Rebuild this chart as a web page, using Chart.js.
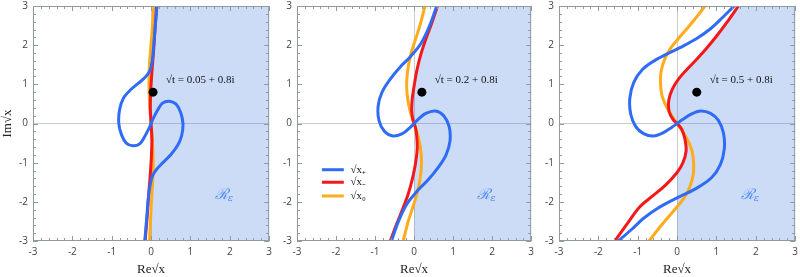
<!DOCTYPE html>
<html>
<head>
<meta charset="utf-8">
<script src="https://cdn.jsdelivr.net/npm/chart.js@4/dist/chart.umd.min.js"></script>
<style>
  body { margin: 0; background: #fff; width: 800px; height: 277px; position: relative; overflow: hidden; }
  canvas { position: absolute; top: -5px; }
</style>
</head>
<body>
<canvas id="p1" width="277" height="282" style="left:0px"></canvas>
<canvas id="p2" width="269" height="282" style="left:270px"></canvas>
<canvas id="p3" width="268" height="282" style="left:535px"></canvas>
<script>
// valeurs de √t pour chaque panneau
const tRe = [0.05, 0.2, 0.5];
const tIm = 0.8;
const axisTicks = [-3, -2, -1, 0, 1, 2, 3];

// √x+ (bleu)
const plus1 = [[0.15,3],[0.1,2.4],[0.06,1.9],[0.03,1.6],[-0.03,1.35],[-0.15,1.18],[-0.32,1.03],[-0.5,0.88],
  [-0.7,0.65],[-0.8,0.35],[-0.82,0],[-0.75,-0.29],[-0.63,-0.5],[-0.46,-0.57],[-0.29,-0.52],[-0.16,-0.33],
  [-0.05,-0.12],[0,0],[0.05,0.12],[0.16,0.33],[0.29,0.52],[0.46,0.57],[0.63,0.5],[0.75,0.29],[0.81,0],
  [0.78,-0.3],[0.68,-0.55],[0.5,-0.8],[0.3,-1.0],[0.14,-1.17],[0.03,-1.35],[-0.03,-1.6],[-0.07,-1.9],
  [-0.11,-2.4],[-0.16,-3]];
const plus2 = [[0.58,3],[0.4,2.5],[0.18,2.05],[-0.1,1.7],[-0.35,1.45],[-0.62,1.12],[-0.82,0.8],[-0.92,0.45],
  [-0.9,0.08],[-0.76,-0.2],[-0.55,-0.32],[-0.3,-0.26],[-0.12,-0.12],[0,0],[0.12,0.12],[0.3,0.26],[0.55,0.32],
  [0.76,0.2],[0.9,-0.08],[0.92,-0.45],[0.82,-0.8],[0.62,-1.12],[0.35,-1.45],[0.1,-1.7],[-0.18,-2.05],
  [-0.4,-2.5],[-0.58,-3]];
const plus3 = [[1.45,3],[1.15,2.7],[0.85,2.42],[0.5,2.17],[0.1,1.95],[-0.5,1.65],[-0.88,1.38],[-1.1,1.05],
  [-1.2,0.65],[-1.18,0.25],[-1.05,-0.08],[-0.85,-0.26],[-0.6,-0.32],[-0.36,-0.24],[-0.14,-0.1],[0,0],
  [0.14,0.1],[0.36,0.24],[0.6,0.32],[0.85,0.26],[1.05,0.08],[1.18,-0.25],[1.2,-0.65],[1.1,-1.05],
  [0.88,-1.38],[0.5,-1.65],[-0.1,-1.95],[-0.5,-2.17],[-0.85,-2.42],[-1.15,-2.7],[-1.49,-3]];

// √x- (rouge)
const minus1 = [[0.14,3],[0.1,2.4],[0.06,1.8],[0.02,1.3],[-0.01,0.8],[-0.02,0.4],[0,0],[0.02,-0.4],
  [0.01,-0.8],[-0.02,-1.3],[-0.06,-1.8],[-0.1,-2.4],[-0.15,-3]];
const minus2 = [[0.6,3],[0.45,2.55],[0.3,2.15],[0.17,1.75],[0.07,1.35],[0.0,0.95],[-0.05,0.6],[-0.06,0.3],
  [-0.03,0.1],[0,0],[0.04,-0.12],[0.07,-0.35],[0.08,-0.65],[0.04,-1.0],[-0.04,-1.4],[-0.15,-1.8],
  [-0.28,-2.15],[-0.44,-2.55],[-0.61,-3]];
const minus3 = [[1.56,3],[1.28,2.6],[1.01,2.24],[0.75,1.92],[0.5,1.64],[0.25,1.38],[0.05,1.15],[-0.12,0.88],
  [-0.21,0.6],[-0.2,0.3],[-0.1,0.1],[0,0],[0.12,-0.15],[0.2,-0.4],[0.23,-0.7],[0.15,-1.0],[0.0,-1.25],
  [-0.3,-1.58],[-0.62,-1.85],[-0.94,-2.12],[-1.26,-2.55],[-1.58,-3]];

// √x0 (orange)
const zero1 = [[0.07,3],[0.03,2.4],[-0.02,1.8],[-0.05,1.3],[-0.05,0.8],[-0.03,0.4],[0,0],[0.03,-0.4],
  [0.05,-0.8],[0.05,-1.3],[0.02,-1.8],[-0.01,-2.4],[-0.04,-3]];
const zero2 = [[0.28,3],[0.15,2.5],[0.02,2.1],[-0.1,1.7],[-0.17,1.3],[-0.19,0.95],[-0.16,0.6],[-0.09,0.28],
  [0,0],[0.09,-0.28],[0.16,-0.6],[0.19,-0.95],[0.17,-1.3],[0.1,-1.7],[-0.02,-2.1],[-0.15,-2.5],[-0.28,-3]];
const zero3 = [[0.71,3],[0.48,2.7],[0.25,2.42],[0.02,2.15],[-0.18,1.9],[-0.33,1.6],[-0.41,1.3],[-0.42,1.0],
  [-0.38,0.7],[-0.28,0.45],[-0.15,0.22],[0,0],[0.15,-0.22],[0.28,-0.45],[0.38,-0.7],[0.42,-1.0],[0.41,-1.3],
  [0.33,-1.6],[0.18,-1.9],[-0.02,-2.15],[-0.25,-2.42],[-0.48,-2.7],[-0.71,-3]];

const plus = [plus1, plus2, plus3];
const minus = [minus1, minus2, minus3];
const zero = [zero1, zero2, zero3];

const BLUE = '#2f6cf6', RED = '#f5181a', ORANGE = '#ffab1c';
const SHADE = 'rgba(60,120,220,0.26)';
const FRAME = '#8f9c9f';

const toXY = arr => arr.map(p => ({ x: p[0], y: p[1] }));

// région R_eps : à droite de la courbe rouge (haut) et de Re=0 (bas)
function regionOf(k) {
  const pts = minus[k].map(p => ({ x: p[1] > 0 ? p[0] : Math.max(0, p[0]), y: p[1] }));
  pts.push({ x: 3, y: -3 }, { x: 3, y: 3 });
  return pts;
}

const decor = {
  id: 'decor',
  afterDatasetsDraw(chart, args, opts) {
    const { ctx, chartArea: a, scales: { x, y } } = chart;
    ctx.save();
    ctx.strokeStyle = FRAME;
    ctx.lineWidth = 1;
    ctx.strokeRect(a.left + 0.5, a.top + 0.5, a.right - a.left - 1, a.bottom - a.top - 1);
    ctx.beginPath();
    for (let i = -15; i <= 15; i++) {
      const len = i % 5 === 0 ? 5 : 3;
      const px = Math.round(x.getPixelForValue(i / 5)) + 0.5;
      const py = Math.round(y.getPixelForValue(i / 5)) + 0.5;
      ctx.moveTo(px, a.bottom); ctx.lineTo(px, a.bottom - len);
      ctx.moveTo(px, a.top); ctx.lineTo(px, a.top + len);
      ctx.moveTo(a.left, py); ctx.lineTo(a.left + len, py);
      ctx.moveTo(a.right, py); ctx.lineTo(a.right - len, py);
    }
    ctx.stroke();

    // étiquette de √t
    const k = opts.k;
    ctx.fillStyle = '#111';
    ctx.font = '11px "Liberation Serif"';
    ctx.textBaseline = 'middle';
    ctx.textAlign = 'left';
    ctx.fillText('√t = ' + tRe[k] + ' + ' + tIm + 'i', x.getPixelForValue(tRe[k] + 0.33), y.getPixelForValue(1.1));

    // R_eps
    ctx.fillStyle = '#4f8cf3';
    ctx.font = 'italic 15px "DejaVu Serif"';
    const rx = x.getPixelForValue(1.62), ry = y.getPixelForValue(-1.82);
    ctx.fillText('ℛ', rx, ry);
    const w = ctx.measureText('ℛ').width;
    ctx.font = 'italic 10px "DejaVu Serif"';
    ctx.fillText('ε', rx + w, ry + 4);

    // légende (panneau du milieu)
    if (opts.legend) {
      const items = [[BLUE, '√x₊', -1.18], [RED, '√x₋', -1.5], [ORANGE, '√x₀', -1.85]];
      items.forEach(([c, label, yv]) => {
        const py = y.getPixelForValue(yv);
        ctx.strokeStyle = c;
        ctx.lineWidth = 3;
        ctx.beginPath();
        ctx.moveTo(x.getPixelForValue(-2.36), py);
        ctx.lineTo(x.getPixelForValue(-1.8), py);
        ctx.stroke();
        ctx.fillStyle = '#111';
        ctx.font = '11px "Liberation Serif"';
        ctx.fillText(label, x.getPixelForValue(-1.63), py);
      });
    }
    ctx.restore();
  }
};

function makePanel(id, k, yWidth) {
  new Chart(document.getElementById(id), {
    type: 'scatter',
    data: {
      datasets: [
        { data: [{ x: tRe[k], y: tIm }], pointRadius: 4.5, backgroundColor: '#000', borderWidth: 0, order: 0 },
        { data: toXY(plus[k]), showLine: true, borderColor: BLUE, borderWidth: 3, pointRadius: 0, tension: 0.35, order: 1 },
        { data: toXY(minus[k]), showLine: true, borderColor: RED, borderWidth: 3, pointRadius: 0, tension: 0.35, order: 2 },
        { data: toXY(zero[k]), showLine: true, borderColor: ORANGE, borderWidth: 3, pointRadius: 0, tension: 0.35, order: 3 },
        { data: regionOf(k), showLine: true, fill: 'shape', backgroundColor: SHADE, borderWidth: 0, pointRadius: 0, tension: 0, order: 9 }
      ]
    },
    options: {
      responsive: false,
      animation: false,
      events: [],
      layout: { padding: 0 },
      plugins: { legend: { display: false }, tooltip: { enabled: false }, decor: { k: k, legend: k === 1 } },
      scales: {
        x: {
          type: 'linear', min: -3, max: 3,
          afterBuildTicks: s => { s.ticks = axisTicks.map(v => ({ value: v })); },
          ticks: { padding: 5, color: '#444', font: { family: 'Open Sans', size: 10 } },
          grid: { drawTicks: false, color: c => c.tick.value === 0 ? '#c9ced1' : 'transparent', lineWidth: 1 },
          border: { display: false },
          title: { display: true, text: 'Re√x', color: '#222', font: { family: 'Liberation Serif', size: 13 }, padding: { top: 3, bottom: 0 } },
          afterFit: s => { s.height = 36; }
        },
        y: {
          type: 'linear', min: -3, max: 3,
          afterBuildTicks: s => { s.ticks = axisTicks.map(v => ({ value: v })); },
          ticks: { padding: 5, color: '#444', font: { family: 'Open Sans', size: 10 } },
          grid: { drawTicks: false, color: c => c.tick.value === 0 ? '#c9ced1' : 'transparent', lineWidth: 1 },
          border: { display: false },
          title: { display: k === 0, text: 'Im√x', color: '#222', font: { family: 'Liberation Serif', size: 13 }, padding: 0 },
          afterFit: s => { s.width = yWidth; }
        }
      }
    },
    plugins: [decor]
  });
}

makePanel('p1', 0, 33);
makePanel('p2', 1, 27);
makePanel('p3', 2, 24);
</script>
</body>
</html>
